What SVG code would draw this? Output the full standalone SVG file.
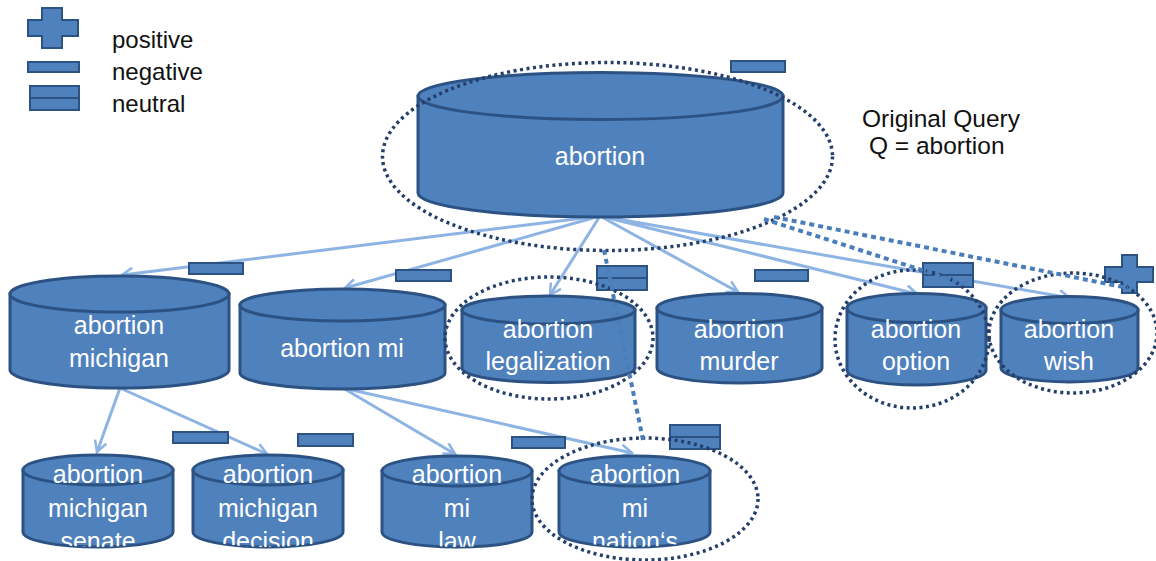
<svg xmlns="http://www.w3.org/2000/svg" width="1156" height="561" viewBox="0 0 1156 561">
<defs>
<style>
.cyl{fill:#4F81BD;stroke:#2B5283;stroke-width:3}
.nt{font-family:"Liberation Sans",Arial,sans-serif;font-size:25px;fill:#ffffff;text-anchor:middle}
.lt{font-family:"Liberation Sans",Arial,sans-serif;font-size:24px;fill:#111111}
.arrow{fill:none;stroke:#8EB4E3;stroke-width:3;marker-end:url(#arr)}
.dot{fill:none;stroke:#243F6B;stroke-width:3.5;stroke-dasharray:3 3.5}
.dash{fill:none;stroke:#4A7EBB;stroke-width:4;stroke-dasharray:5 4}
.sym{fill:#4F81BD;stroke:#2B5283;stroke-width:2}
</style>
<marker id="arr" viewBox="0 0 14 14" refX="12" refY="7" markerWidth="14" markerHeight="14" markerUnits="userSpaceOnUse" orient="auto">
<path d="M1,1 L12,7 L1,13" fill="none" stroke="#8EB4E3" stroke-width="2.5"/>
</marker>
<clipPath id="c-senate"><path d="M23,470 L23,532 A75,15 0 0 0 173,532 L173,470 L173,440 L23,440 Z"/></clipPath>
<clipPath id="c-decision"><path d="M193,470 L193,532 A75,15 0 0 0 343,532 L343,470 L343,440 L193,440 Z"/></clipPath>
<clipPath id="c-law"><path d="M382,471 L382,532 A75,15 0 0 0 532,532 L532,471 L532,440 L382,440 Z"/></clipPath>
<clipPath id="c-nation"><path d="M559,471 L559,532 A75.5,15 0 0 0 710,532 L710,471 L710,440 L559,440 Z"/></clipPath>
</defs>
<rect width="1156" height="561" fill="#ffffff"/>

<!-- legend -->
<g id="legend">
<path class="sym" d="M42,8 H62 V20 H78 V36 H62 V48 H42 V36 H28 V20 H42 Z"/>
<rect class="sym" x="28" y="62" width="51" height="10"/>
<rect class="sym" x="30" y="86" width="49" height="12"/>
<rect class="sym" x="30" y="98" width="49" height="12"/>
<text class="lt" x="112" y="48">positive</text>
<text class="lt" x="112" y="80">negative</text>
<text class="lt" x="112" y="112">neutral</text>
</g>

<g id="query-label">
<text class="lt" x="862" y="127" style="font-size:24.5px">Original Query</text>
<text class="lt" x="869" y="154" style="font-size:24.5px">Q = abortion</text>
</g>

<!-- connectors -->
<g id="connectors">
<line class="arrow" x1="600" y1="216" x2="122" y2="275"/>
<line class="arrow" x1="600" y1="216" x2="345" y2="288"/>
<line class="arrow" x1="600" y1="216" x2="550" y2="295"/>
<line class="arrow" x1="600" y1="216" x2="738" y2="292"/>
<line class="arrow" x1="600" y1="216" x2="917" y2="294"/>
<line class="arrow" x1="600" y1="216" x2="1070" y2="298"/>
<line class="arrow" x1="120" y1="388" x2="97" y2="452"/>
<line class="arrow" x1="120" y1="388" x2="267" y2="454"/>
<line class="arrow" x1="343" y1="388" x2="455" y2="454"/>
<line class="arrow" x1="343" y1="388" x2="632" y2="453"/>
</g>

<!-- nodes -->
<g id="node-abortion">
<path class="cyl" d="M418,96 L418,193 A182.5,24 0 0 0 783,193 L783,96 Z"/>
<ellipse class="cyl" cx="600.5" cy="96" rx="182.5" ry="23.5"/>
<text class="nt" x="600" y="165">abortion</text>
</g>
<g id="node-michigan">
<path class="cyl" d="M10,294 L10,370 A109.5,18 0 0 0 229,370 L229,294 Z"/>
<ellipse class="cyl" cx="119.5" cy="294" rx="109.5" ry="18"/>
<text class="nt" x="119" y="334">abortion</text>
<text class="nt" x="119" y="367">michigan</text>
</g>
<g id="node-mi">
<path class="cyl" d="M240,305 L240,373 A102.5,16 0 0 0 445,373 L445,305 Z"/>
<ellipse class="cyl" cx="342.5" cy="305" rx="102.5" ry="16"/>
<text class="nt" x="342" y="357">abortion mi</text>
</g>
<g id="node-legalization">
<path class="cyl" d="M462,310 L462,368 A86.5,14.5 0 0 0 635,368 L635,310 Z"/>
<ellipse class="cyl" cx="548.5" cy="310" rx="86.5" ry="14"/>
<text class="nt" x="548" y="338">abortion</text>
<text class="nt" x="548" y="370">legalization</text>
</g>
<g id="node-murder">
<path class="cyl" d="M657,308 L657,368 A82.5,15 0 0 0 822,368 L822,308 Z"/>
<ellipse class="cyl" cx="739.5" cy="308" rx="82.5" ry="14.5"/>
<text class="nt" x="739" y="338">abortion</text>
<text class="nt" x="739" y="370">murder</text>
</g>
<g id="node-option">
<path class="cyl" d="M847,308 L847,370 A69.5,15 0 0 0 986,370 L986,308 Z"/>
<ellipse class="cyl" cx="916.5" cy="308" rx="69.5" ry="14.5"/>
<text class="nt" x="916" y="338">abortion</text>
<text class="nt" x="916" y="370">option</text>
</g>
<g id="node-wish">
<path class="cyl" d="M1001,310 L1001,368 A68.5,14 0 0 0 1138,368 L1138,310 Z"/>
<ellipse class="cyl" cx="1069.5" cy="310" rx="68.5" ry="13.5"/>
<text class="nt" x="1069" y="338">abortion</text>
<text class="nt" x="1069" y="370">wish</text>
</g>
<g id="node-senate">
<path class="cyl" d="M23,470 L23,532 A75,15 0 0 0 173,532 L173,470 Z"/>
<ellipse class="cyl" cx="98" cy="470" rx="75" ry="15"/>
<g clip-path="url(#c-senate)">
<text class="nt" x="98" y="483">abortion</text>
<text class="nt" x="98" y="517">michigan</text>
<text class="nt" x="98" y="550">senate</text>
</g>
</g>
<g id="node-decision">
<path class="cyl" d="M193,470 L193,532 A75,15 0 0 0 343,532 L343,470 Z"/>
<ellipse class="cyl" cx="268" cy="470" rx="75" ry="15"/>
<g clip-path="url(#c-decision)">
<text class="nt" x="268" y="483">abortion</text>
<text class="nt" x="268" y="517">michigan</text>
<text class="nt" x="268" y="550">decision</text>
</g>
</g>
<g id="node-law">
<path class="cyl" d="M382,471 L382,532 A75,15 0 0 0 532,532 L532,471 Z"/>
<ellipse class="cyl" cx="457" cy="471" rx="75" ry="15"/>
<g clip-path="url(#c-law)">
<text class="nt" x="457" y="483">abortion</text>
<text class="nt" x="457" y="517">mi</text>
<text class="nt" x="457" y="550">law</text>
</g>
</g>
<g id="node-nations">
<path class="cyl" d="M559,471 L559,532 A75.5,15 0 0 0 710,532 L710,471 Z"/>
<ellipse class="cyl" cx="634.5" cy="471" rx="75.5" ry="15"/>
<g clip-path="url(#c-nation)">
<text class="nt" x="635" y="483">abortion</text>
<text class="nt" x="635" y="517">mi</text>
<text class="nt" x="635" y="550">nation‘s</text>
</g>
</g>

<!-- sentiment labels -->
<g id="labels">
<rect class="sym" x="731" y="61" width="54" height="11"/>
<rect class="sym" x="189" y="263" width="54" height="11"/>
<rect class="sym" x="396" y="270" width="55" height="11"/>
<rect class="sym" x="597" y="266" width="50" height="12"/>
<rect class="sym" x="597" y="278" width="50" height="12"/>
<rect class="sym" x="755" y="270" width="53" height="11"/>
<rect class="sym" x="923" y="263" width="50" height="12"/>
<rect class="sym" x="923" y="275" width="50" height="12"/>
<path class="sym" d="M1122,255 H1137 V267 H1153 V282 H1137 V293 H1122 V282 H1105 V267 H1122 Z"/>
<rect class="sym" x="173" y="432" width="55" height="11"/>
<rect class="sym" x="298" y="434" width="55" height="12"/>
<rect class="sym" x="512" y="437" width="53" height="11"/>
<rect class="sym" x="670" y="425" width="50" height="12"/>
<rect class="sym" x="670" y="437" width="50" height="12"/>
</g>

<!-- cluster outlines and relation lines -->
<g id="clusters">
<ellipse class="dot" cx="607.5" cy="156.5" rx="225" ry="94"/>
<ellipse class="dot" cx="549" cy="338" rx="104" ry="61"/>
<ellipse class="dot" cx="912" cy="339" rx="77" ry="69"/>
<ellipse class="dot" cx="1073" cy="333" rx="84" ry="60"/>
<ellipse class="dot" cx="645" cy="499" rx="113" ry="61"/>
<path class="dash" d="M604,250 L643,440"/>
<path class="dash" d="M764,219 L968,285"/>
<path class="dash" d="M774,217 L1128,288"/>
</g>
</svg>
